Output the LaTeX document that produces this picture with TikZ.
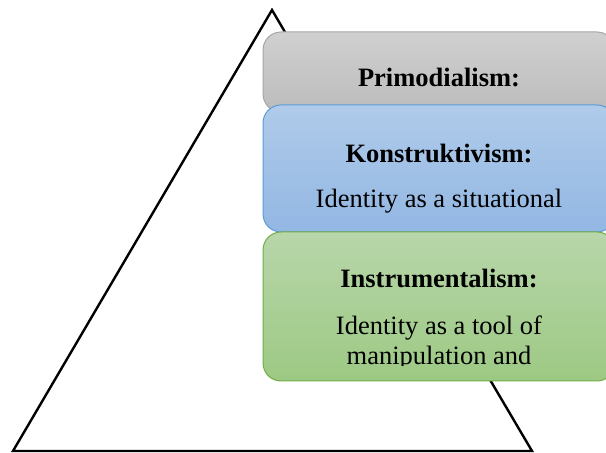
\documentclass[tikz,border=0pt]{standalone}
\usepackage{fontspec}
\setmainfont{Liberation Serif}
\usetikzlibrary{positioning,calc}
\definecolor{greytop}{HTML}{D0D0D0}
\definecolor{greybot}{HTML}{BCBCBC}
\definecolor{greyline}{HTML}{A6A6A6}
\definecolor{bluetop}{HTML}{B0CBEA}
\definecolor{bluebot}{HTML}{92B7E3}
\definecolor{blueline}{HTML}{5B9BD5}
\definecolor{greentop}{HTML}{B8D6AA}
\definecolor{greenbot}{HTML}{9DC984}
\definecolor{greenline}{HTML}{70AD47}
\tikzset{
  tierbox/.style={rectangle, rounded corners=9pt, minimum width=176pt, line width=0.5pt, inner sep=0pt},
  tiertitle/.style={anchor=base, font=\fontsize{13.25}{15}\selectfont\bfseries},
  tiertext/.style={anchor=base, font=\fontsize{13.25}{15}\selectfont}
}

\begin{document}
\begin{tikzpicture}[x=0.5pt,y=-0.5pt]
    \clip (0,0) rectangle (606,453);
    % the pyramid
    \coordinate (apex) at (272,10);
    \coordinate (left) at (13,451);
    \coordinate (right) at (532,451);
    \draw[line width=1.2pt, line join=miter] (apex) -- (left) -- (right) -- cycle;
    % the three tiers
    \node[tierbox, minimum height=40pt, top color=greytop, bottom color=greybot, draw=greyline] (primo) at (439,72) {};
    \node[tierbox, minimum height=63.5pt, top color=bluetop, bottom color=bluebot, draw=blueline] (konstr) at (439,168.5) {};
    \node[tierbox, minimum height=74.5pt, top color=greentop, bottom color=greenbot, draw=greenline] (instr) at (439,306.5) {};
    \node[tiertitle] (primotitle) at (439,86.7) {Primodialism:};
    \node[tiertitle] (konstrtitle) at (439,163) {Konstruktivism:};
    \node[tiertext] (konstrtext) at (439,208) {Identity as a situational};
    \node[tiertitle] (instrtitle) at (439,288) {Instrumentalism:};
    \node[tiertext] (instrtext) at (439,335) {Identity as a tool of};
    \begin{scope}
    \clip (263,232) rectangle (615,366);
    \node[tiertext] (instrmore) at (439,365) {manipulation and};
    \end{scope}
\end{tikzpicture}
\end{document}
